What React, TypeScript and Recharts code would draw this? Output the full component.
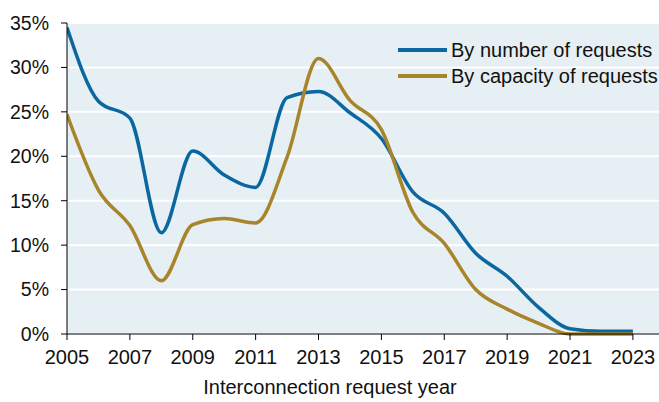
import { LineChart, Line, XAxis, YAxis, CartesianGrid } from 'recharts'

const years = [
  2005, 2006, 2007, 2008, 2009, 2010, 2011, 2012, 2013, 2014, 2015, 2016, 2017,
  2018, 2019, 2020, 2021, 2022, 2023,
]
const byNumber = [
  34.5, 26.2, 24.3, 11.4, 20.6, 17.9, 16.5, 26.6, 27.3, 24.9, 22.0, 16.0, 13.6,
  9.1, 6.5, 3.0, 0.6, 0.3, 0.3,
]
const byCapacity = [
  24.7, 16.2, 12.2, 6.0, 12.3, 13.0, 12.5, 19.9, 31.0, 26.3, 23.0, 13.7, 10.2,
  5.0, 2.8, 1.2, 0.0, 0.0, 0.0,
]
const xTicks = [2005, 2007, 2009, 2011, 2013, 2015, 2017, 2019, 2021, 2023]
const yTicks = [0, 5, 10, 15, 20, 25, 30, 35]

const BLUE = '#0A679F'
const GOLD = '#A8842A'
const FONT = '"Liberation Sans", Arial, sans-serif'

const data = years.map((year, i) => ({
  year,
  number: byNumber[i],
  capacity: byCapacity[i],
}))

const legendItems = [
  { name: 'By number of requests', color: BLUE },
  { name: 'By capacity of requests', color: GOLD },
]

// legend drawn as an overlay so it doesn't eat into the plot area
function ChartLegend() {
  return (
    <div
      style={{
        position: 'absolute',
        left: 398,
        top: 37,
        fontFamily: FONT,
        fontSize: 20,
        color: '#111',
      }}
    >
      {legendItems.map((item) => (
        <div
          key={item.name}
          style={{ display: 'flex', alignItems: 'center', height: 26, whiteSpace: 'nowrap' }}
        >
          <span
            style={{
              display: 'inline-block',
              width: 49,
              height: 4,
              background: item.color,
              marginRight: 4,
            }}
          />
          <span>{item.name}</span>
        </div>
      ))}
    </div>
  )
}

export default function App() {
  return (
    <div style={{ position: 'absolute', left: 0, top: 0, background: '#fff' }}>
      <LineChart
        width={659}
        height={402}
        data={data}
        margin={{ top: 23, right: 0, left: 0, bottom: 0 }}
      >
        <CartesianGrid
          vertical={false}
          stroke="#ffffff"
          strokeWidth={2}
          fill="#E6EFF3"
        />
        <XAxis
          dataKey="year"
          type="number"
          domain={[2005, 2023.83]}
          ticks={xTicks}
          allowDataOverflow
          height={68}
          tickSize={6}
          tickMargin={10}
          stroke="#000"
          tick={{ fill: '#111', fontSize: 20, fontFamily: FONT }}
          label={{
            value: 'Interconnection request year',
            position: 'insideBottom',
            offset: 8,
            dx: -33,
            style: { fill: '#111', fontSize: 20, fontFamily: FONT },
          }}
        />
        <YAxis
          domain={[0, 35]}
          ticks={yTicks}
          width={67}
          tickSize={6}
          tickMargin={12}
          stroke="#000"
          tickFormatter={(v) => `${v}%`}
          tick={{ fill: '#111', fontSize: 19.5, fontFamily: FONT }}
        />
        <Line
          type="monotone"
          dataKey="number"
          stroke={BLUE}
          strokeWidth={3.5}
          dot={false}
          isAnimationActive={false}
        />
        <Line
          type="monotone"
          dataKey="capacity"
          stroke={GOLD}
          strokeWidth={3.5}
          dot={false}
          isAnimationActive={false}
        />
      </LineChart>
      <ChartLegend />
    </div>
  )
}
